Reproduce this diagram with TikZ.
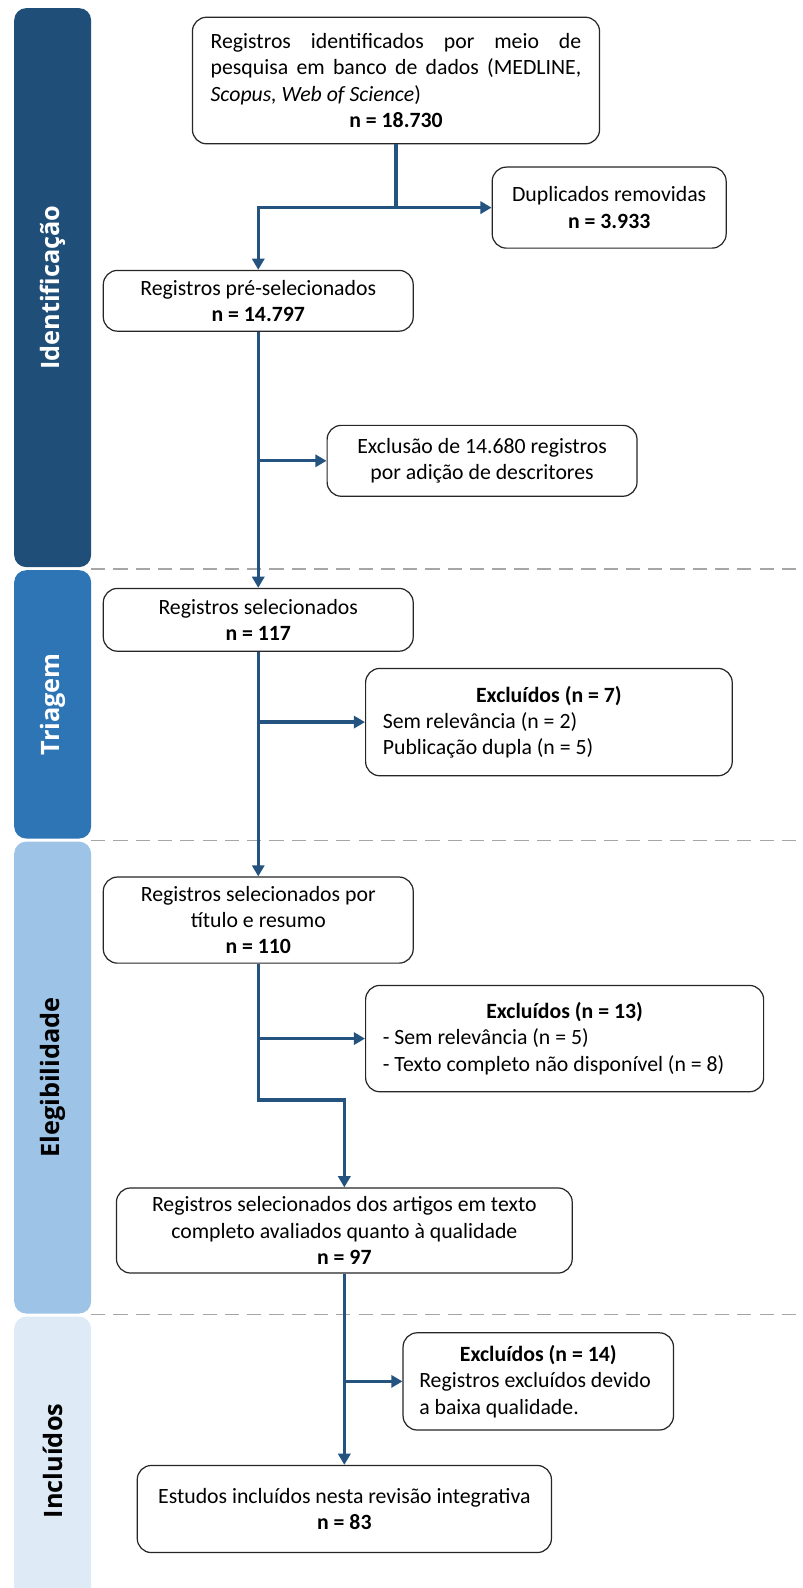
\documentclass[tikz,border=0pt]{standalone}
\usepackage{fontspec}
\setmainfont{Carlito}
\newfontfamily\barfont{Open Sans}
\usetikzlibrary{arrows.meta}
\definecolor{fase1}{HTML}{1F4E79}
\definecolor{fase2}{HTML}{2E75B6}
\definecolor{fase3}{HTML}{9DC3E6}
\definecolor{fase4}{HTML}{DEEBF7}
\definecolor{azulfluxo}{HTML}{25537F}
\definecolor{cinzacorte}{HTML}{A6A6A6}

\begin{document}
\begin{tikzpicture}[x=1pt, y=-1pt,
    caixa/.style={draw=black!85, line width=1.2pt, rounded corners=14pt, fill=white,
        inner xsep=17pt, inner ysep=4pt, align=center,
        font=\fontsize{21.5}{26}\selectfont},
    fase/.style={rounded corners=12pt, rotate=90, minimum height=76pt, inner sep=0pt,
        font=\barfont\bfseries\fontsize{25}{30}\selectfont},
    fluxo/.style={draw=azulfluxo, line width=3.3pt, -{Triangle[length=11pt,width=12pt]}},
    corte/.style={draw=cinzacorte, line width=1.5pt, dash pattern=on 14pt off 8pt}]
    \useasboundingbox (0,0) rectangle (792,1568);
    % As faixas laterais marcam as etapas da revisão.
    \node[fase, fill=fase1, text=white, minimum width=552pt] (idf) at (52,284) {Identificação};
    \node[fase, fill=fase2, text=white, minimum width=265pt] (tri) at (52,695.5) {Triagem};
    \node[fase, fill=fase3, text=black, minimum width=466pt] (ele) at (52,1064) {Elegibilidade};
    \node[fase, fill=fase4, text=black, minimum width=285pt] (inl) at (52,1442.5) {Incluídos};
    \draw[corte] (90,562) -- (792,562);
    \draw[corte] (90,830) -- (792,830);
    \draw[corte] (90,1298) -- (792,1298);

    \node[caixa, inner xsep=18pt, text width=366pt, align=justify, minimum height=125pt] (reg) at (391,79.5)
        {Registros identificados por meio de\linebreak pesquisa em banco de dados (MEDLINE,\linebreak
         \textit{Scopus, Web of Science})\par\hfill\textbf{n = 18.730}\hfill\null};
    \node[caixa, minimum width=231pt, minimum height=80pt] (dup) at (601.5,205)
        {Duplicados removidas\\\textbf{n = 3.933}};
    \node[caixa, minimum width=306pt, minimum height=60pt] (pre) at (255,297)
        {Registros pré-selecionados\\\textbf{n = 14.797}};
    \node[caixa, minimum width=306pt, minimum height=70pt] (exc1) at (476,455)
        {Exclusão de 14.680 registros\\por adição de descritores};
    \node[caixa, minimum width=306pt, minimum height=62pt] (sel) at (255,612)
        {Registros selecionados\\\textbf{n = 117}};
    \node[caixa, text width=328pt, align=flush left, minimum height=106pt] (exc2) at (542,713)
        {\hfill\textbf{Excluídos (n = 7)}\hfill\null\\Sem relevância (n = 2)\\Publicação dupla (n = 5)};
    \node[caixa, minimum width=306pt, minimum height=85pt] (tit) at (255,908.5)
        {Registros selecionados por\\título e resumo\\\textbf{n = 110}};
    \node[caixa, text width=359pt, align=flush left, minimum height=105pt] (exc3) at (557.5,1025.5)
        {\hfill\textbf{Excluídos (n = 13)}\hfill\null\\- Sem relevância (n = 5)\\- Texto completo não disponível (n = 8)};
    \node[caixa, minimum width=450pt, minimum height=84pt] (ful) at (340,1215)
        {Registros selecionados dos artigos em texto\\completo avaliados quanto à qualidade\\\textbf{n = 97}};
    \node[caixa, text width=235pt, inner xsep=16pt, align=flush left, minimum height=96pt] (exc4) at (531.5,1364)
        {\hfill\textbf{Excluídos (n = 14)}\hfill\null\\Registros excluídos devido\\a baixa qualidade.};
    \node[caixa, minimum width=409pt, minimum height=86pt] (inc) at (340,1490)
        {Estudos incluídos nesta revisão integrativa\\\textbf{n = 83}};

    \coordinate (dobra) at (340,1086);
    \draw[fluxo] (reg.south) |- (dup.west);
    \draw[fluxo] (reg.south |- dup.west) -| (pre.north);
    \draw[fluxo] (pre.south) -- (sel.north);
    \draw[fluxo] (pre.south |- exc1.west) -- (exc1.west);
    \draw[fluxo] (sel.south) -- (tit.north);
    \draw[fluxo] (sel.south |- exc2.west) -- (exc2.west);
    \draw[fluxo] (tit.south) |- (dobra) -- (ful.north);
    \draw[fluxo] (tit.south |- exc3.west) -- (exc3.west);
    \draw[fluxo] (ful.south) -- (inc.north);
    \draw[fluxo] (ful.south |- exc4.west) -- (exc4.west);
\end{tikzpicture}
\end{document}
